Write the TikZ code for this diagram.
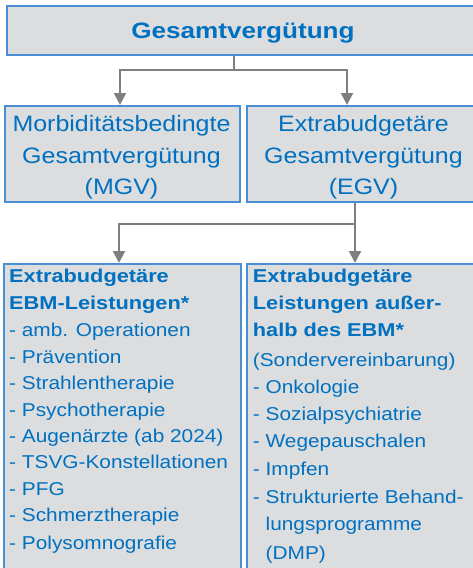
\documentclass[tikz,border=0pt]{standalone}
\usepackage{fontspec}
\setmainfont{Liberation Sans}[FakeStretch=1.12, BoldFeatures={FakeStretch=1.17}]
\usetikzlibrary{arrows.meta,positioning}
\definecolor{kvblau}{HTML}{0070C0}
\definecolor{kvrand}{HTML}{4A8FD4}
\definecolor{kvgrau}{HTML}{DCDDDF}
\definecolor{pfeilgrau}{HTML}{7F7F7F}

\tikzset{
  box/.style={draw=kvrand, line width=1.5pt, fill=kvgrau, inner sep=0pt, anchor=north west},
  titel/.style={text=kvblau, inner sep=0pt, anchor=base, align=center, font=\fontsize{22.3}{31.5}\selectfont},
  zeile/.style={text=kvblau, inner sep=0pt, anchor=base west, font=\fontsize{18.6}{26}\selectfont},
  linie/.style={draw=pfeilgrau, line width=2pt},
  pfeil/.style={linie, -{Triangle[width=12pt,length=12pt]}},
}

\begin{document}
\begin{tikzpicture}[x=1pt,y=-1pt]
    \useasboundingbox (0,0) rectangle (472,568);

    \node[box, minimum width=474pt, minimum height=49pt] (gesamt) at (6,5) {};
    \node[titel, font=\bfseries\fontsize{22.3}{26}\selectfont] (gesamttxt) at (243,38) {Gesamtvergütung};

    % Grundlinie der letzten Zeile
    \node[box, minimum width=235pt, minimum height=96pt] (mgv) at (4,105) {};
    \node[titel] (mgvtxt) at (121.5,194.5) {Morbiditätsbedingte\\Gesamtvergütung\\(MGV)};
    \node[box, minimum width=235pt, minimum height=96pt] (egv) at (246,105) {};
    \node[titel] (egvtxt) at (363.5,194.5) {Extrabudgetäre\\Gesamtvergütung\\(EGV)};

    \node[box, minimum width=237pt, minimum height=330pt] (links) at (3,263) {};
    \node[box, minimum width=240pt, minimum height=330pt] (rechts) at (246,263) {};

    % Aufzaehlungen
    \foreach \y/\t [count=\i] in {282/{\bfseries Extrabudgetäre}, 309/{\bfseries EBM-Leistungen*},
      336/- amb. Operationen, 363/- Prävention, 389.5/- Strahlentherapie, 416/- Psychotherapie,
      442.5/- Augenärzte (ab 2024), 468.5/- TSVG-Konstellationen, 495/- PFG,
      521/- Schmerztherapie, 549.5/- Polysomnografie}
      \node[zeile] (l\i) at (9,\y) {\t};

    \foreach \x/\y/\t [count=\i] in {252.7/282/{\bfseries Extrabudgetäre}, 252.7/309/{\bfseries Leistungen außer-},
      252.7/336/{\bfseries halb des EBM*}, 252.7/366.5/(Sondervereinbarung), 252.7/393/- Onkologie,
      252.7/420/- Sozialpsychiatrie, 252.7/447.5/- Wegepauschalen, 252.7/475/- Impfen,
      252.7/503/- Strukturierte Behand-, 265.5/530/lungsprogramme, 265.5/559.5/(DMP)}
      \node[zeile] (r\i) at (\x,\y) {\t};

    % Pfeile
    \coordinate (knick1) at (234,70);
    \coordinate (ziel1) at (120,0);
    \coordinate (ziel2) at (347,0);
    \draw[linie] (knick1 |- gesamt.south) -- (knick1);
    \draw[pfeil] (knick1) -| (ziel1 |- mgv.north);
    \draw[pfeil] (knick1) -| (ziel2 |- egv.north);

    \coordinate (knick2) at (355,224);
    \coordinate (ziel3) at (119,0);
    \draw[linie] (knick2 |- egv.south) -- (knick2);
    \draw[pfeil] (knick2) -- (knick2 |- rechts.north);
    \draw[pfeil] (knick2) -| (ziel3 |- links.north);
\end{tikzpicture}
\end{document}
